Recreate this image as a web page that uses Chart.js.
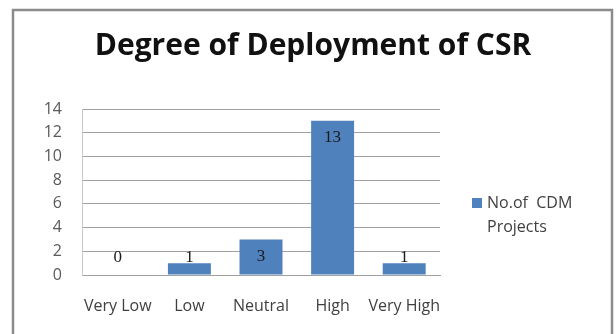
<!DOCTYPE html>
<html lang="en">
  <head>
    <meta charset="UTF-8" />
    <title>Degree of Deployment of CSR</title>
    <script src="https://cdn.jsdelivr.net/npm/chart.js"></script>
    <style>
      body { margin: 0; background: #fff; }
    </style>
  </head>
  <body>
    <canvas id="myChart" width="616" height="334"></canvas>
    <script>
      // values
      const categories = ["Very Low", "Low", "Neutral", "High", "Very High"];
      const projects = [0, 1, 3, 13, 1];
      const seriesName = ["No.of  CDM", "Projects"];
      const yTicks = [0, 2, 4, 6, 8, 10, 12, 14];
      const chartTitle = "Degree of Deployment of CSR";

      // outer frame + title centred on the whole frame (not the plot)
      const framePlugin = {
        id: "frame",
        beforeDraw(chart) {
          const ctx = chart.ctx;
          ctx.save();
          ctx.fillStyle = "#fff";
          ctx.fillRect(0, 0, chart.width, chart.height);
          ctx.strokeStyle = "#8c8c8c";
          ctx.lineWidth = 2.5;
          ctx.strokeRect(13, 10, 599, 340);
          ctx.font = "bold 30px 'Open Sans'";
          ctx.fillStyle = "#111";
          ctx.textAlign = "center";
          ctx.textBaseline = "middle";
          ctx.fillText(chartTitle, 313, 46);
          ctx.restore();
        },
      };

      // value labels: inside the top of tall bars, just above short ones
      const labelPlugin = {
        id: "valueLabels",
        afterDatasetsDraw(chart) {
          const ctx = chart.ctx;
          ctx.save();
          ctx.font = "17px 'Liberation Serif'";
          ctx.fillStyle = "#1a1a1a";
          ctx.textAlign = "center";
          ctx.textBaseline = "middle";
          chart.getDatasetMeta(0).data.forEach((bar, i) => {
            const y = Math.min(bar.y + 17, bar.base - 17);
            ctx.fillText(projects[i], bar.x, y);
          });
          ctx.restore();
        },
      };

      // legend on the right, text on two lines
      const legendPlugin = {
        id: "sideLegend",
        afterDraw(chart) {
          const ctx = chart.ctx;
          ctx.save();
          ctx.fillStyle = "#4f81bd";
          ctx.fillRect(472, 198, 10, 10);
          ctx.font = "16px 'Open Sans'";
          ctx.fillStyle = "#404040";
          ctx.textBaseline = "middle";
          ctx.fillText(seriesName[0], 487, 203);
          ctx.fillText(seriesName[1], 487, 227);
          ctx.restore();
        },
      };

      const myChart = new Chart(document.getElementById("myChart"), {
        type: "bar",
        data: {
          labels: categories,
          datasets: [
            {
              label: seriesName.join(" "),
              data: projects,
              backgroundColor: "#4f81bd",
              barPercentage: 0.6,
              categoryPercentage: 1,
            },
          ],
        },
        options: {
          responsive: false,
          devicePixelRatio: 1,
          animation: false,
          layout: { padding: { left: 0, right: 176, top: 109, bottom: 0 } },
          plugins: {
            legend: { display: false },
            tooltip: { enabled: false },
            title: { display: false },
          },
          scales: {
            x: {
              grid: { display: false, drawTicks: false },
              border: { display: true, color: "#a0a0a0" },
              ticks: {
                color: "#404040",
                font: { family: "Open Sans", size: 16 },
                padding: 22,
                maxRotation: 0,
                autoSkip: false,
              },
              afterFit(scale) {
                scale.height = 59;
              },
            },
            y: {
              min: 0,
              max: 14,
              grid: { color: "#a0a0a0", drawTicks: false },
              border: { display: true, color: "#c8c8c8" },
              afterBuildTicks(scale) {
                scale.ticks = yTicks.map((v) => ({ value: v }));
              },
              ticks: {
                color: "#595959",
                font: { family: "Open Sans", size: 16 },
                padding: 20,
              },
              afterFit(scale) {
                scale.width = 82;
              },
            },
          },
        },
        plugins: [framePlugin, labelPlugin, legendPlugin],
      });
    </script>
  </body>
</html>
